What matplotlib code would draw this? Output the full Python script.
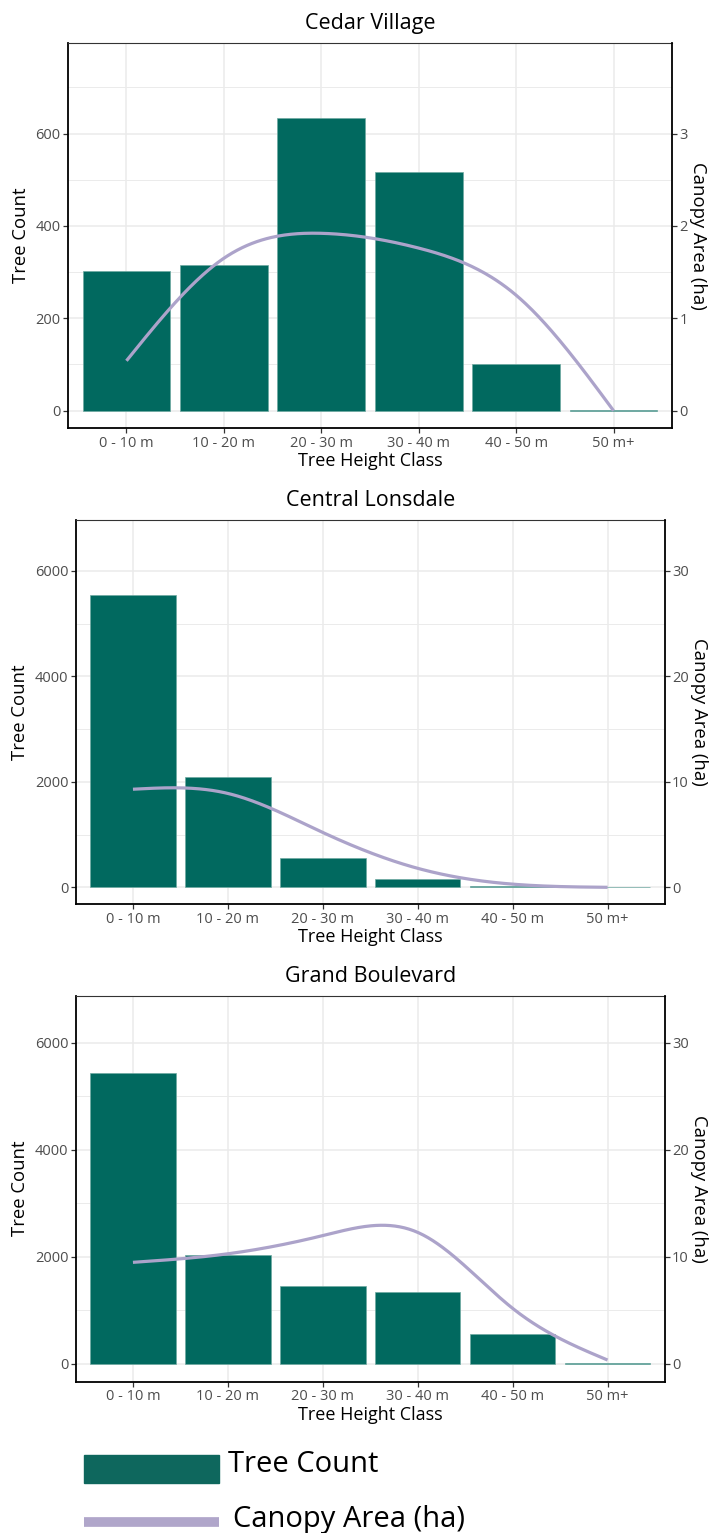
import matplotlib
matplotlib.use("Agg")
import matplotlib.pyplot as plt
import numpy as np
from matplotlib.ticker import MultipleLocator, FixedLocator
from matplotlib.patches import Rectangle

plt.rcParams['font.family'] = ['Open Sans', 'DejaVu Sans']

# data
classes = ["0 - 10 m", "10 - 20 m", "20 - 30 m", "30 - 40 m", "40 - 50 m", "50 m+"]
areas = ["Cedar Village", "Central Lonsdale", "Grand Boulevard"]

cedar_count = [302, 316, 633, 517, 100, 1]
cedar_canopy = [0.54, 1.65, 1.92, 1.76, 1.25, 0.0]

lonsdale_count = [5540, 2100, 561, 157, 30, 10]
lonsdale_canopy = [9.3, 8.9, 5.2, 1.8, 0.3, 0.0]

grand_count = [5442, 2034, 1463, 1350, 557, 20]
grand_canopy = [9.5, 10.3, 12.0, 12.3, 5.2, 0.37]

counts = [cedar_count, lonsdale_count, grand_count]
canopies = [cedar_canopy, lonsdale_canopy, grand_canopy]

sec_scale = 200  # trees per ha on the secondary axis
ylims = [(-37.5, 796), (-322, 6974), (-331, 6884)]
ymajor = [200, 2000, 2000]
sec_ticks = [[0, 1, 2, 3], [0, 10, 20, 30], [0, 10, 20, 30]]

bar_color = "#01695F"
line_color = "#ACA3CA"
grid_color = "#EBEBEB"

W, H = 709, 1533
# axes boxes in pixels: left, top, right, bottom
boxes = [(68, 43, 672, 428), (76, 519.5, 664.5, 904.3), (76, 995.7, 664.5, 1381.7)]


def natural_spline(x, y, xs):
    x = np.asarray(x, float)
    y = np.asarray(y, float)
    n = len(x)
    h = np.diff(x)
    A = np.zeros((n, n))
    r = np.zeros(n)
    A[0, 0] = A[-1, -1] = 1
    for i in range(1, n - 1):
        A[i, i - 1] = h[i - 1]
        A[i, i] = 2 * (h[i - 1] + h[i])
        A[i, i + 1] = h[i]
        r[i] = 3 * ((y[i + 1] - y[i]) / h[i] - (y[i] - y[i - 1]) / h[i - 1])
    c = np.linalg.solve(A, r)
    b = (y[1:] - y[:-1]) / h - h * (2 * c[:-1] + c[1:]) / 3
    d = (c[1:] - c[:-1]) / (3 * h)
    idx = np.clip(np.searchsorted(x, xs) - 1, 0, n - 2)
    t = xs - x[idx]
    return y[idx] + b[idx] * t + c[idx] * t ** 2 + d[idx] * t ** 3


fig = plt.figure(figsize=(W / 100, H / 100), dpi=100)
xpos = np.arange(len(classes))

for k in range(3):
    l, t, r, b = boxes[k]
    ax = fig.add_axes([l / W, 1 - b / H, (r - l) / W, (b - t) / H])
    ax.bar(xpos, counts[k], width=0.9, color=bar_color,
           edgecolor="#6FAAA2", linewidth=0.5, zorder=2)
    ax.set_xlim(-0.6, 5.6)
    ax.set_ylim(*ylims[k])
    ax.yaxis.set_major_locator(MultipleLocator(ymajor[k]))
    ax.yaxis.set_minor_locator(MultipleLocator(ymajor[k] / 2))
    ax.set_xticks(xpos)
    ax.set_xticklabels(classes)
    ax.set_axisbelow(True)
    ax.grid(which="major", color=grid_color, linewidth=1.1)
    ax.grid(which="minor", axis="y", color=grid_color, linewidth=0.7)
    ax.tick_params(which="minor", length=0)
    ax.tick_params(which="major", length=3.5, width=0.9, color="#333333",
                   labelsize=10.5, labelcolor="#4D4D4D", pad=2)
    for s in ["left", "bottom"]:
        ax.spines[s].set_linewidth(1.3)
        ax.spines[s].set_color("black")
    ax.spines["top"].set_linewidth(0.8)
    ax.spines["top"].set_color("#333333")
    ax.spines["right"].set_visible(False)
    ax.set_title(areas[k], fontsize=15.5, pad=10)
    ax.set_xlabel("Tree Height Class", fontsize=13, labelpad=1)
    ax.set_ylabel("Tree Count", fontsize=13.3, labelpad=4)

    ax2 = ax.twinx()
    ax2.set_ylim(ylims[k][0] / sec_scale, ylims[k][1] / sec_scale)
    ax2.yaxis.set_major_locator(FixedLocator(sec_ticks[k]))
    xs = np.linspace(0, 5, 300)
    ax2.plot(xs, natural_spline(xpos, canopies[k], xs), color=line_color,
             linewidth=2.3, solid_capstyle="butt", zorder=3)
    for s in ["left", "bottom", "top"]:
        ax2.spines[s].set_visible(False)
    ax2.spines["right"].set_linewidth(1.3)
    ax2.spines["right"].set_color("black")
    ax2.tick_params(length=3.5, width=0.9, color="#333333",
                    labelsize=10.5, labelcolor="#4D4D4D", pad=2)
    ax2.set_ylabel("Canopy Area (ha)", fontsize=13.3, rotation=270, labelpad=14)

# legend at the bottom, drawn in pixel coordinates
lg = fig.add_axes([0, 0, 1, 100 / H])
lg.set_xlim(0, W)
lg.set_ylim(H, H - 100)
lg.axis("off")
lg.add_patch(Rectangle((84, 1455), 135, 27.5, color="#0E675D"))
lg.plot([84, 219], [1522, 1522], color="#B0A6CA", linewidth=7, solid_capstyle="butt")
lg.text(228, 1465, "Tree Count", fontsize=21, va="center", ha="left")
lg.text(233, 1519, "Canopy Area (ha)", fontsize=21, va="center", ha="left")

fig.savefig("out.png", dpi=100)
